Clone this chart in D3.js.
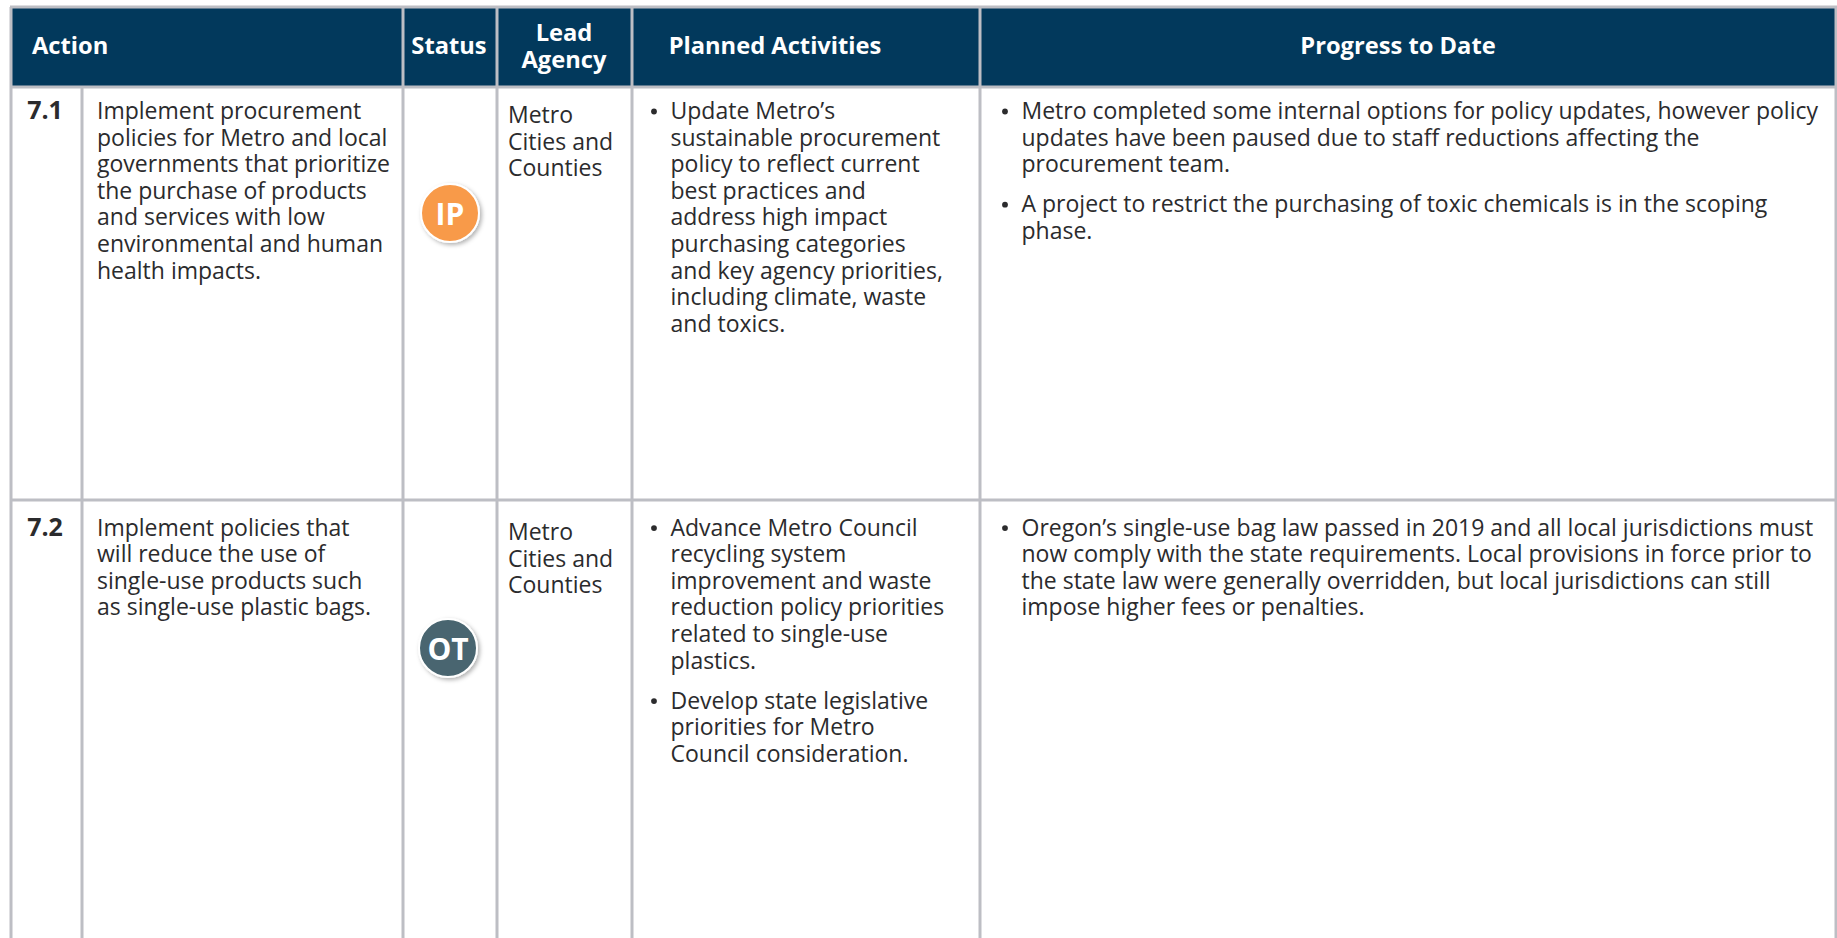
<!DOCTYPE html>
<html><head><meta charset="utf-8">
<script src="https://cdn.jsdelivr.net/npm/d3@7/dist/d3.min.js"></script>
<style>html,body{margin:0;padding:0;background:#fff;overflow:hidden}svg{display:block}</style>
</head><body><svg id="c" width="1837" height="938"></svg>
<script>
const headers = ["Action","Status",["Lead","Agency"],"Planned Activities","Progress to Date"];
const actionIds = ["7.1","7.2"];
const statuses = ["IP","OT"];
const actions = [
 ["Implement procurement","policies for Metro and local","governments that prioritize","the purchase of products","and services with low","environmental and human","health impacts."],
 ["Implement policies that","will reduce the use of","single-use products such","as single-use plastic bags."]];
const agencies = [["Metro","Cities and","Counties"],["Metro","Cities and","Counties"]];
const planned = [
 [["Update Metro’s","sustainable procurement","policy to reflect current","best practices and","address high impact","purchasing categories","and key agency priorities,","including climate, waste","and toxics."]],
 [["Advance Metro Council","recycling system","improvement and waste","reduction policy priorities","related to single-use","plastics."],["Develop state legislative","priorities for Metro","Council consideration."]]];
const progress = [
 [["Metro completed some internal options for policy updates, however policy","updates have been paused due to staff reductions affecting the","procurement team."],["A project to restrict the purchasing of toxic chemicals is in the scoping","phase."]],
 [["Oregon’s single-use bag law passed in 2019 and all local jurisdictions must","now comply with the state requirements. Local provisions in force prior to","the state law were generally overridden, but local jurisdictions can still","impose higher fees or penalties."]]];

const FONT = "'Open Sans', sans-serif", FS = 23, LH = 26.6, GAP = 40;
const INK = "#2b2b2d", NAVY = "#02395c", RULE = "#bdbec4";
const svg = d3.select("#c");
const defs = svg.append("defs");
defs.append("filter").attr("id","sh").attr("x","-30%").attr("y","-30%").attr("width","170%").attr("height","170%")
  .append("feDropShadow").attr("dx",2).attr("dy",2).attr("stdDeviation",2).attr("flood-color","#000").attr("flood-opacity",.3);

const colX = {left:11, num:82, action:403, status:497, lead:632, planned:980, right:1836};
const rowY = d3.scaleOrdinal().domain([0,1]).range([87,500]);
const topY = 7, bottomY = 938;

svg.append("rect").attr("x",colX.left).attr("y",topY).attr("width",colX.right-colX.left).attr("height",rowY(0)-topY).attr("fill",NAVY);
const vs = [colX.left,colX.action,colX.status,colX.lead,colX.planned,colX.right];
svg.selectAll("line.v").data(vs).join("line").attr("class","v").attr("x1",d=>d).attr("x2",d=>d).attr("y1",topY).attr("y2",bottomY).attr("stroke",RULE).attr("stroke-width",3);
svg.append("line").attr("x1",colX.num).attr("x2",colX.num).attr("y1",rowY(0)).attr("y2",bottomY).attr("stroke",RULE).attr("stroke-width",3);
[topY,rowY(0),rowY(1)].forEach(y=>svg.append("line").attr("x1",colX.left-1).attr("x2",colX.right+1).attr("y1",y).attr("y2",y).attr("stroke",RULE).attr("stroke-width",3));

function put(x,y,s,o={}){
  return svg.append("text").attr("x",x).attr("y",y).text(s)
   .attr("font-family",FONT).attr("font-size",o.size||FS).attr("fill",o.fill||INK)
   .attr("font-weight",o.weight||400).attr("text-anchor",o.anchor||"start");
}
const hs = {fill:"#fff",weight:700,size:23.7};
put(32,54,headers[0],hs);
put(449,54,headers[1],{...hs,anchor:"middle"});
put(564,41,headers[2][0],{...hs,anchor:"middle"});
put(564,68,headers[2][1],{...hs,anchor:"middle"});
put(775,54,headers[3],{...hs,anchor:"middle"});
put(1398,54,headers[4],{...hs,anchor:"middle"});

const base = [119,535.6], leadBase=[123,540];
function bullets(x,y0,paras){
  let y=y0;
  paras.forEach(p=>{
    svg.append("circle").attr("cx",x).attr("cy",y-7.5).attr("r",2.9).attr("fill",INK);
    p.forEach(l=>{put(x+16.5,y,l); y+=LH;});
    y+=GAP-LH;
  });
}
[0,1].forEach(r=>{
  put(45,base[r],actionIds[r],{weight:700,anchor:"middle",size:25});
  actions[r].forEach((l,i)=>put(97,base[r]+i*LH,l));
  agencies[r].forEach((l,i)=>put(508,leadBase[r]+i*LH,l));
  bullets(654,base[r],planned[r]);
  bullets(1005,base[r],progress[r]);
});
const bx=[450,448], by=[213,648], bc=["#f89a4a","#48656f"];
const g = svg.selectAll("g.b").data(statuses).join("g").attr("class","b").attr("transform",(d,i)=>`translate(${bx[i]},${by[i]})`);
g.append("circle").attr("r",29).attr("fill",(d,i)=>bc[i]).attr("stroke","#fff").attr("stroke-width",2).attr("filter","url(#sh)");
g.append("text").text(d=>d).attr("text-anchor","middle").attr("y",11.5).attr("fill","#fff").attr("font-family",FONT).attr("font-weight",700).attr("font-size",30);
</script></body></html>
